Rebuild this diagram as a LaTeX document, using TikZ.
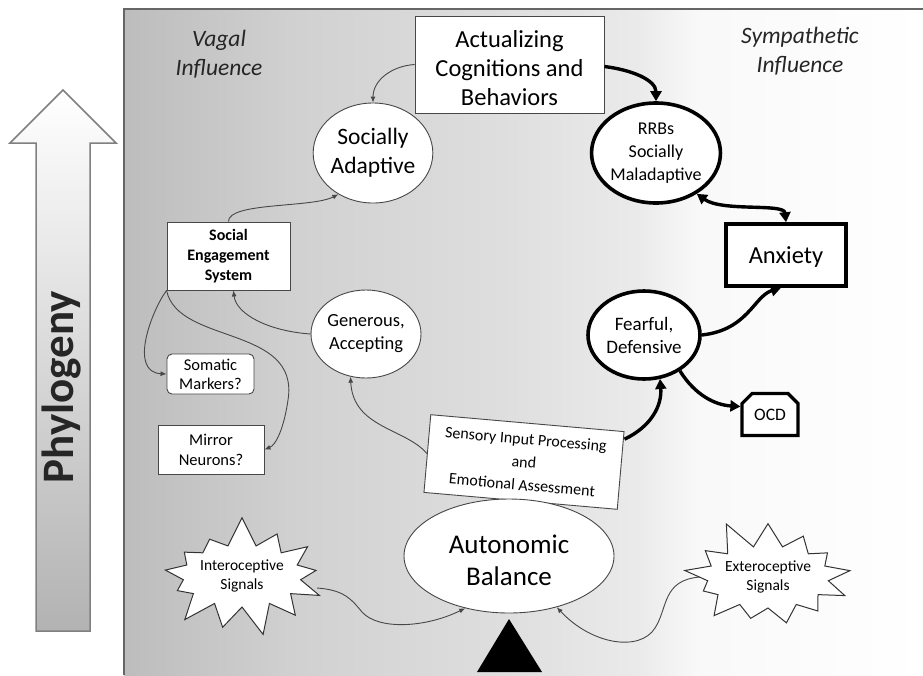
\documentclass[tikz,border=0pt]{standalone}
\usepackage{fontspec}
\setmainfont{Carlito}
\usetikzlibrary{arrows.meta,shapes.geometric,shapes.symbols,shapes.misc}
\definecolor{pA}{gray}{0.74}
\definecolor{pB}{gray}{0.82}
\definecolor{pC}{gray}{0.87}
\definecolor{pD}{gray}{0.92}
\definecolor{pE}{gray}{0.975}
\definecolor{lineg}{gray}{0.28}
\pgfdeclarehorizontalshading{panelshade}{100bp}{color(0bp)=(pA); color(25bp)=(pA); color(36bp)=(pB); color(48.5bp)=(pC); color(57.3bp)=(pD); color(61bp)=(pE); color(75bp)=(white); color(100bp)=(white)}
\tikzset{
  fs/.style 2 args={font=\fontsize{#1}{#2}\selectfont},
  thinbox/.style={draw=lineg, fill=white, line width=0.9pt, align=center, inner sep=2pt},
  thickbox/.style={draw=black, fill=white, line width=3.6pt, align=center, inner sep=2pt},
  thinarrow/.style={draw=lineg, line width=0.9pt, -{Latex[length=6pt,width=5pt]}},
  thickarrow/.style={draw=black, line width=3.4pt, -{Triangle[length=10pt,width=11pt]}},
  burst/.style={draw=black!80, fill=white, line width=1pt, shape=starburst, starburst points=13,
     starburst point height=30pt, minimum width=160pt, minimum height=122pt, inner sep=0pt, align=center},
  side/.style={font=\fontsize{23.5}{29}\selectfont\itshape, text=black!85, align=center}
}
\begin{document}
\begin{tikzpicture}[x=1pt,y=-1pt]
\useasboundingbox (0,0) rectangle (923,675);
\fill[white] (0,0) rectangle (923,675);
% panel
\shade[shading=panelshade] (124,9) rectangle (923,675);
\draw[draw=black!60, line width=1.6pt] (124,675) -- (124,9) -- (923,9);
% phylogeny arrow
\shade[top color=white, bottom color=black!30, draw=black!50, line width=1.5pt]
  (63,90) -- (116,143) -- (90,143) -- (90,631) -- (36,631) -- (36,143) -- (10,143) -- cycle;
\node[rotate=90, font=\fontsize{45}{45}\selectfont\bfseries, text=black!85] (phylo) at (62,387) {Phylogeny};
% side labels
\node[side] (vagal) at (219,54) {Vagal\\Influence};
\node[side] (symp) at (800,51) {Sympathetic\\Influence};
% nodes
\node[thinbox, fs={24.5}{29}, minimum width=189pt, minimum height=97pt, text height=82pt] (act) at (509.5,64.5) {Actualizing\\Cognitions and\\Behaviors};
\node[thinbox, ellipse, fs={23.5}{29}, minimum width=115pt, minimum height=100pt, inner sep=0pt] (sadapt) at (373,153) {Socially\\Adaptive};
\node[thickbox, ellipse, fs={18}{23}, minimum width=125pt, minimum height=100pt, inner sep=0pt] (rrb) at (656,153) {RRBs\\Socially\\Maladaptive};
\node[thickbox, fs={24.5}{26}, minimum width=120pt, minimum height=62pt, text depth=0pt] (anx) at (786,255) {Anxiety};
\node[thinbox, font=\fontsize{16}{20}\selectfont\bfseries, minimum width=123pt, minimum height=68pt] (ses) at (228.5,256) {Social\\Engagement\\System};
\node[thinbox, ellipse, fs={18.5}{23}, minimum width=110pt, minimum height=88pt, inner sep=0pt] (gen) at (366,334) {Generous,\\Accepting};
\node[thickbox, ellipse, fs={19}{23}, minimum width=112pt, minimum height=88pt, inner sep=0pt] (fear) at (644,335) {Fearful,\\Defensive};
\node[thickbox, chamfered rectangle, chamfered rectangle corners={north east,north west}, chamfered rectangle xsep=5pt, chamfered rectangle ysep=5pt, line width=3.2pt, fs={17.5}{19}, minimum width=56pt, minimum height=42pt] (ocd) at (770,414.5) {OCD};
\node[thinbox, rounded corners=5pt, fs={16.5}{19}, minimum width=87pt, minimum height=40pt] (som) at (210.5,374) {Somatic\\Markers?};
\node[thinbox, fs={16.5}{20}, minimum width=106pt, minimum height=49pt] (mir) at (211,449.5) {Mirror\\Neurons?};
\node[thinbox, rotate=-5, fs={16}{23}, minimum width=194pt, minimum height=78pt] (sens) at (524,462) {Sensory Input Processing\\and\\Emotional Assessment};
\node[thinbox, ellipse, fs={27}{32}, minimum width=210pt, minimum height=114pt, inner sep=0pt, text height=60pt] (auto) at (509,556) {Autonomic\\Balance};
\node[burst, random starburst=7, fs={15.5}{19}] (intero) at (242,576) {Interoceptive\\Signals};
\node[burst, random starburst=11, fs={15.5}{19}] (extero) at (768,577) {Exteroceptive\\Signals};
% fulcrum
\fill[black] (509,619) -- (542,672) -- (477,672) -- cycle;
% connectors
\draw[thinarrow] (act.west) .. controls (392,66) and (373,80) .. (sadapt.north);
\draw[thickarrow] ([yshift=-2pt]act.east) .. controls (632,70) and (656,80) .. (rrb.north);
\draw[thickarrow, {Triangle[length=10pt,width=11pt]}-{Triangle[length=10pt,width=11pt]}] (rrb.-45) .. controls (722,212) and (784,203) .. (anx.north);
\draw[thickarrow] (fear.east) .. controls (748,330) and (754,296) .. ([xshift=-5pt]anx.south);
\draw[thickarrow] (fear.-45) .. controls (695,395) and (715,405) .. ([yshift=8pt]ocd.west);
\draw[thickarrow] ([yshift=-8pt]sens.north east) .. controls (652,426) and (662,405) .. (fear.-70);
\draw[thinarrow] (sens.west) .. controls (405,428) and (353,428) .. (gen.-110);
\draw[thinarrow] (gen.west) .. controls (268,331) and (236,314) .. ([xshift=5pt]ses.south);
\draw[thinarrow] (ses.north) .. controls (228,202) and (312,208) .. (sadapt.-130);
\draw[thinarrow] (ses.south west) .. controls (152,310) and (128,372) .. (som.west);
\draw[thinarrow] (ses.south west) .. controls (178,345) and (300,325) .. (288,400) .. controls (284,428) and (276,445) .. (mir.east);
\draw[thinarrow] ([xshift=75pt,yshift=-12pt]intero.center) .. controls (345,590) and (352,600) .. (362,612) .. controls (378,630) and (425,628) .. (auto.-130);
\draw[thinarrow] ([xshift=-68pt]extero.center) .. controls (662,580) and (668,608) .. (655,628) .. controls (640,652) and (592,645) .. (auto.-47);
\end{tikzpicture}
\end{document}
